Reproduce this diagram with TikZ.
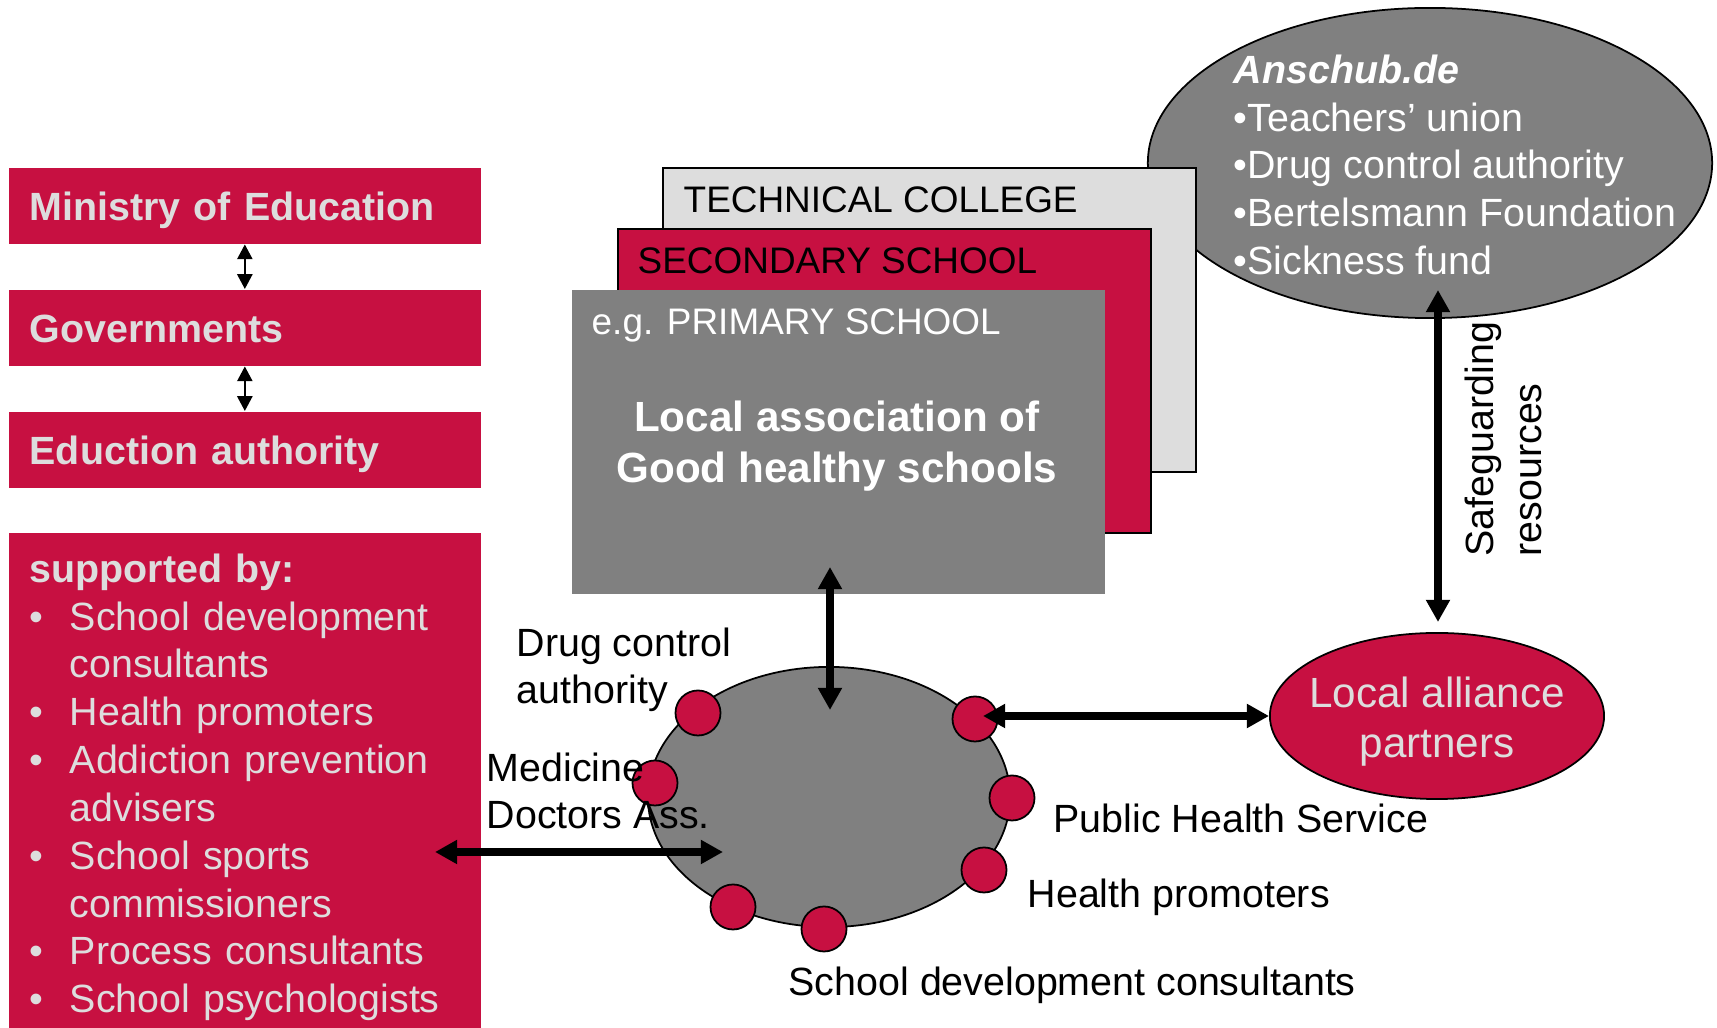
\documentclass[tikz,border=0pt]{standalone}
\usepackage{fontspec}
\setmainfont{Liberation Sans}
\usetikzlibrary{arrows.meta,shapes.geometric}

\definecolor{crimson}{RGB}{199,16,65}
\definecolor{midgray}{RGB}{128,128,128}
\definecolor{pale}{RGB}{221,221,221}

\newcommand{\itemdot}{\makebox[0.4cm][l]{\textbullet}}
\newcommand{\itemgap}{\hspace*{0.4cm}}

\begin{document}
\begin{tikzpicture}[x=0.01cm,y=-0.01cm,
    font=\fontsize{11.2}{13.6}\selectfont,
    bigarrow/.style={{Triangle[length=6.3pt,width=6.5pt]}-{Triangle[length=6.3pt,width=6.5pt]},line width=2pt},
    smallarrow/.style={{Triangle[length=4.2pt,width=4.3pt]}-{Triangle[length=4.2pt,width=4.3pt]},line width=0.6pt},
    redbox/.style={fill=crimson,text=pale,font=\fontsize{11.2}{13.6}\selectfont\bfseries,
        anchor=north west,inner xsep=0.21cm,inner ysep=0pt,text width=4.3cm,
        minimum height=0.76cm,text height=0.29cm,text depth=0cm,align=left},
    schoolbox/.style={rectangle,anchor=north west,inner sep=0pt,
        minimum width=5.33cm,minimum height=3.04cm},
    boxlabel/.style={anchor=base west,inner sep=0pt,font=\fontsize{10.5}{12.6}\selectfont},
    dot/.style={circle,fill=crimson,draw,line width=0.5pt,minimum size=0.45cm,inner sep=0pt},
    tag/.style={inner sep=0pt,align=left,font=\fontsize{11.2}{13.3}\selectfont}]

    \useasboundingbox (0,0) rectangle (1717,1028);

    % Left column: administration
    \node [redbox] (ministry) at (8,167) {Ministry of Education};
    \node [redbox] (govts) at (8,289) {Governments};
    \node [redbox] (authority) at (8,411) {Eduction authority};
    \draw [smallarrow] (ministry) -- (govts);
    \draw [smallarrow] (govts) -- (authority);

    % Supporters
    \node [fill=crimson,text=pale,anchor=north west,inner sep=0.21cm,text width=4.3cm,align=left]
        (support) at (8,532) {{\bfseries supported by:}\\
        \itemdot School development\\
        \itemgap consultants\\
        \itemdot Health promoters\\
        \itemdot Addiction prevention\\
        \itemgap advisers\\
        \itemdot School sports\\
        \itemgap commissioners\\
        \itemdot Process consultants\\
        \itemdot School psychologists};

    % Anschub.de (behind the school stack)
    \node [ellipse,fill=midgray,draw,line width=0.5pt,minimum width=5.64cm,minimum height=3.10cm,inner sep=0pt]
        (anschub) at (1430,163) {};
    \node [anchor=north west,inner sep=0pt,align=left,text=white] (anschubtext) at (1233,54)
        {{\bfseries\itshape Anschub.de}\\
        •Teachers’ union\\
        •Drug control authority\\
        •Bertelsmann Foundation\\
        •Sickness fund};

    % School stack
    \node [schoolbox,fill=pale,draw,line width=0.5pt] (college) at (662,167) {};
    \node [boxlabel] (collegelabel) at (683,213) {TECHNICAL COLLEGE};
    \node [schoolbox,fill=crimson,draw,line width=0.5pt] (secondary) at (617,228) {};
    \node [boxlabel] (secondarylabel) at (637,274) {SECONDARY SCHOOL};
    \node [schoolbox,fill=midgray] (primary) at (571,289) {};
    \node [boxlabel,text=white] (primarylabel) at (591,335) {e.g. PRIMARY SCHOOL};
    \node [align=center,text=white,inner sep=0pt,font=\fontsize{12}{14.7}\selectfont\bfseries]
        (assoc) at (837,446) {Local association of\\Good healthy schools};

    % Local network
    \node [ellipse,fill=midgray,draw,line width=0.5pt,minimum width=3.62cm,minimum height=2.60cm,inner sep=0pt]
        (network) at (829,797) {};
    \node [dot] (drugdot) at (698,713) {};
    \node [dot] (meddot) at (655,783) {};
    \node [dot] (linkdot) at (975,719) {};
    \node [dot] (publicdot) at (1012,798) {};
    \node [dot] (healthdot) at (984,870) {};
    \node [dot] (spare) at (733,907) {};
    \node [dot] (schooldot) at (824,929) {};

    % Partner labels
    \node [tag,anchor=north west] (druglabel) at (516,627) {Drug control\\authority};
    \node [tag,anchor=north west] (medlabel) at (486,752) {Medicine\\Doctors Ass.};
    \node [tag,anchor=base west] (publiclabel) at (1053,833) {Public Health Service};
    \node [tag,anchor=base west] (healthlabel) at (1027,908) {Health promoters};
    \node [tag,anchor=base west] (schoollabel) at (788,996) {School development consultants};

    % Local alliance partners
    \node [ellipse,fill=crimson,draw,line width=0.5pt,minimum width=3.34cm,minimum height=1.66cm,inner sep=0pt]
        (alliance) at (1437,716) {};
    \node [align=center,text=pale,inner sep=0pt,font=\fontsize{12}{14.2}\selectfont]
        (alliancetext) at (1437,722) {Local alliance\\partners};

    % Connectors
    \coordinate (stacktip) at (830,567);
    \coordinate (nettop) at (830,710);
    \coordinate (supporttip) at (435,852);
    \coordinate (netleft) at (723,852);
    \coordinate (linktip) at (983,716);
    \coordinate (fundtip) at (1438,290);
    \coordinate (alliancetop) at (1438,622);
    \draw [bigarrow] (stacktip) -- (nettop);
    \draw [bigarrow] (supporttip) -- (netleft);
    \draw [bigarrow] (linktip) -- (alliance.west);
    \draw [bigarrow] (fundtip) -- (alliancetop);
    \node [rotate=90,anchor=north west,inner sep=0pt,align=left] (safetext) at (1464,557)
        {Safeguarding\\resources};

\end{tikzpicture}
\end{document}
